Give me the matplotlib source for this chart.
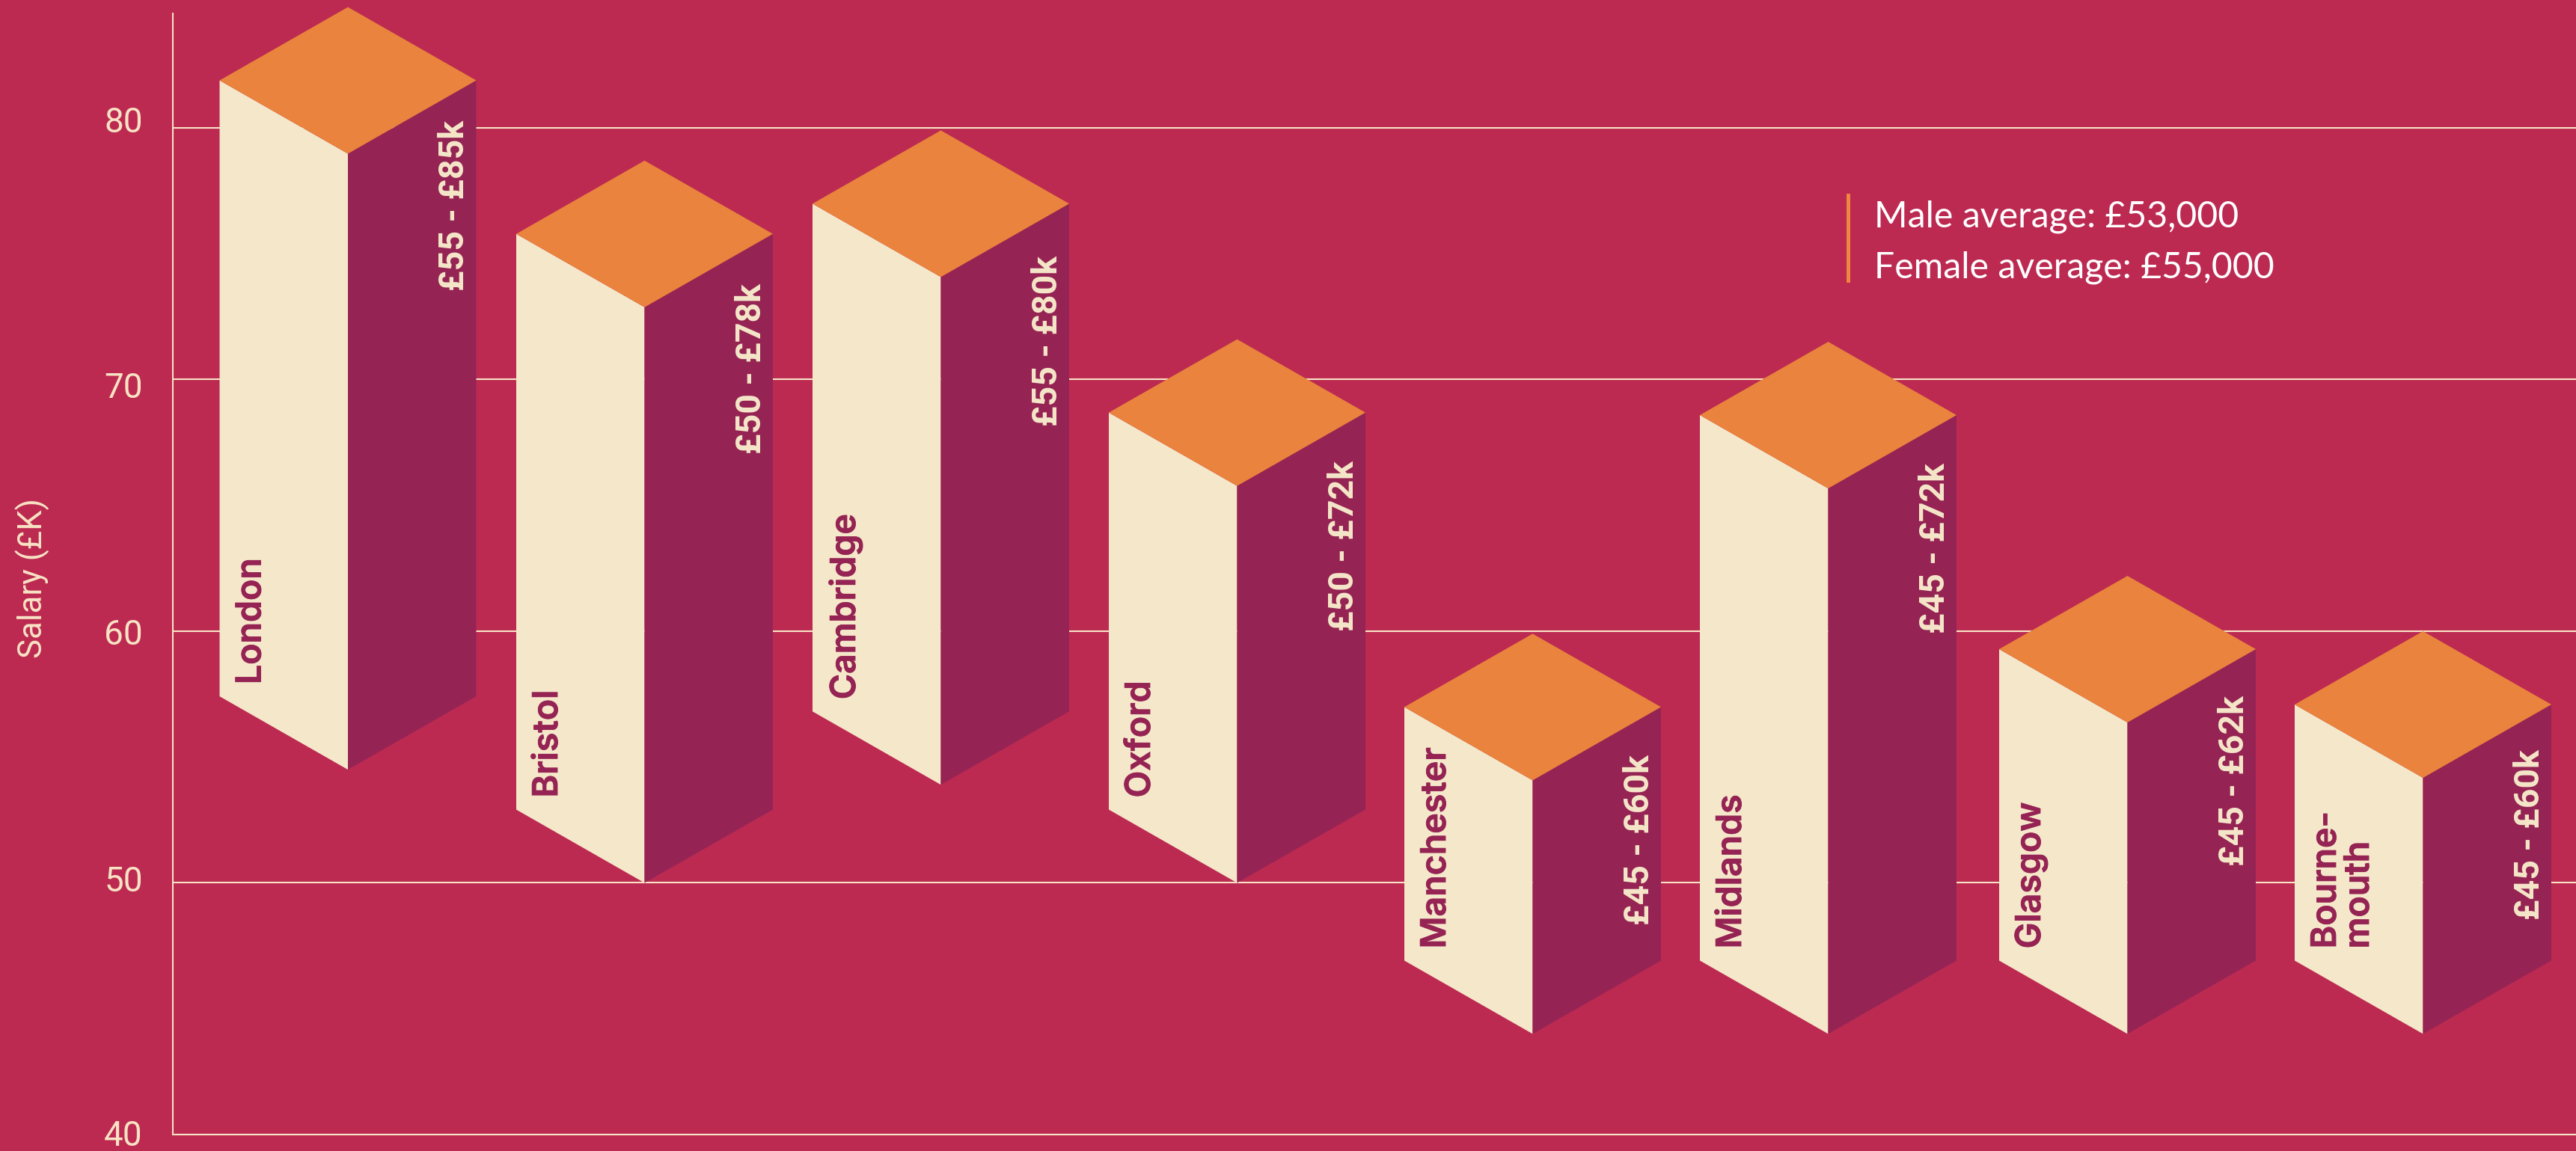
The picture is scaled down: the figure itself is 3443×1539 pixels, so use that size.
import matplotlib
matplotlib.use("Agg")
import matplotlib.pyplot as plt
import matplotlib.patheffects as pe
from matplotlib.patches import Polygon
from matplotlib.lines import Line2D
from matplotlib.transforms import offset_copy

# ---- data ----
cities = ["London", "Bristol", "Cambridge", "Oxford", "Manchester", "Midlands", "Glasgow", "Bourne-\nmouth"]
salary_low = [54.5, 50.0, 53.9, 50.0, 44.0, 44.0, 44.0, 44.0]
salary_high = [84.8, 78.7, 79.9, 71.6, 59.9, 71.5, 62.2, 60.0]
range_labels = ["£55 - £85k", "£50 - £78k", "£55 - £80k", "£50 - £72k",
                "£45 - £60k", "£45 - £72k", "£45 - £62k", "£45 - £60k"]
y_ticks = [40, 50, 60, 70, 80]
legend_lines = ["Male average: £53,000", "Female average: £55,000"]

# ---- layout / style ----
W, H = 3443, 1539
BG, CREAM, PURPLE, ORANGE = "#BC2A52", "#F5E7C9", "#952454", "#E9833D"
LINE = "#F8E3C4"
X0_PX, STEP_PX = 465.5, 396.0
NUDGE_PX = [-0.5, 0, 0, 0, -1, -2, 2, 1]
LABEL_DROP_PX = [53, 66, 70, 64, 64, 64, 62, 60]
TICK_SHIFT_PX = [-2, -6, 1, 7, -11]
PX_PER_K = 33.65
HALF_W = 171.5 / STEP_PX
HALF_H = 98.0 / PX_PER_K

fig = plt.figure(figsize=(W / 100, H / 100), dpi=100, facecolor=BG)
ax_l, ax_r, ax_t, ax_b = 231, W, 18, 1517
ax = fig.add_axes([ax_l / W, 1 - ax_b / H, (ax_r - ax_l) / W, (ax_b - ax_t) / H], facecolor=BG)
ax.set_xlim((ax_l - X0_PX) / STEP_PX, (ax_r - X0_PX) / STEP_PX)
ax.set_ylim(40, 40 + (ax_b - ax_t) / PX_PER_K)

for s in ("top", "right"):
    ax.spines[s].set_visible(False)
for s in ("left", "bottom"):
    ax.spines[s].set_color(LINE)
    ax.spines[s].set_linewidth(1.5)
ax.set_xticks([])
ax.set_yticks(y_ticks)
ax.set_yticklabels([str(t) for t in y_ticks], family="Roboto", fontsize=33, color=LINE)
ax.tick_params(axis="y", length=0, pad=29)
fig.canvas.draw()
for lbl, shift in zip(ax.get_yticklabels(), TICK_SHIFT_PX):
    lbl.set_transform(offset_copy(lbl.get_transform(), fig=fig, y=-shift, units="dots"))
ax.grid(axis="y", color=LINE, lw=1.5, zorder=1)
ax.set_axisbelow(True)

for i, (name, lo, hi, lab) in enumerate(zip(cities, salary_low, salary_high, range_labels)):
    c = i + NUDGE_PX[i] / STEP_PX
    l, r = c - HALF_W, c + HALF_W
    mid_top = hi - 2 * HALF_H
    side_top, side_bot = hi - HALF_H, lo + HALF_H
    kw = dict(closed=True, lw=0, zorder=3, clip_on=False)
    ax.add_patch(Polygon([(l, side_top), (c, mid_top), (c, lo), (l, side_bot)], fc=CREAM, **kw))
    ax.add_patch(Polygon([(c, mid_top), (r, side_top), (r, side_bot), (c, lo)], fc=PURPLE, **kw))
    ax.add_patch(Polygon([(l, side_top), (c, hi), (r, side_top), (c, mid_top)], fc=ORANGE, **kw))
    ax.text(l + 21 / STEP_PX, side_bot + 16 / PX_PER_K, name, rotation=90, ha="left", va="bottom",
            multialignment="left", linespacing=1.0, family="Inter", fontweight="semibold",
            fontsize=33.5, color=PURPLE, zorder=4,
            path_effects=[pe.withStroke(linewidth=0.6, foreground=PURPLE)])
    ax.text(r - 29 / STEP_PX, side_top - LABEL_DROP_PX[i] / PX_PER_K, lab, rotation=90, ha="center", va="top",
            family="Roboto", fontweight="bold", fontsize=33.5, color=CREAM, zorder=4)

fig.text(44 / W, 1 - 773 / H, "Salary (£K)", rotation=90, ha="center", va="center",
         family="Roboto", fontsize=31.5, color=LINE)

fig.add_artist(Line2D([2470 / W, 2470 / W], [1 - 261 / H, 1 - 375 / H], color="#F0893F", lw=3.5))
for txt, yp in zip(legend_lines, (290, 358)):
    fig.text(2505 / W, 1 - yp / H, txt, ha="left", va="center", family="Lato",
             fontsize=34.7, color="white")

fig.savefig("out.png", dpi=100, facecolor=BG)
